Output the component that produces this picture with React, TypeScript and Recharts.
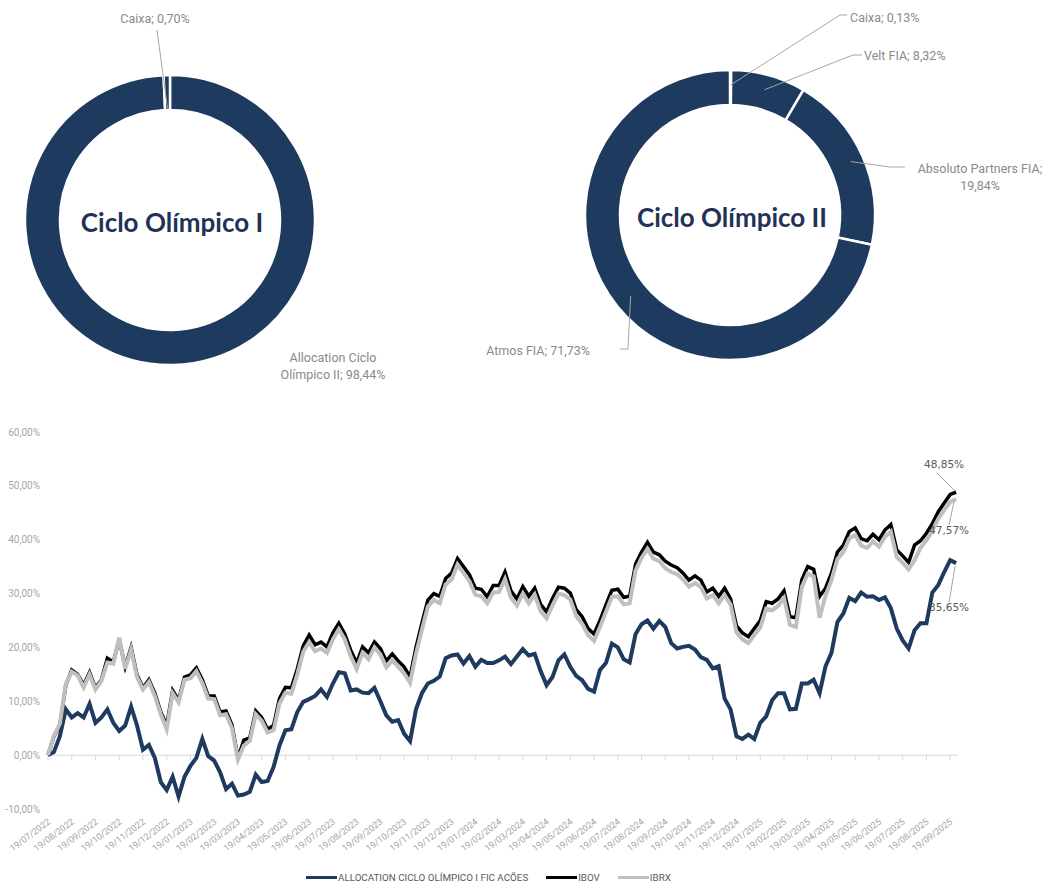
import React from "react";
import {
  PieChart,
  Pie,
  Cell,
  LineChart,
  Line,
  XAxis,
  YAxis,
  ReferenceLine,
  Legend,
} from "recharts";

// ---- data ----
const ciclo1Names = ["Allocation Ciclo Olímpico II", "Caixa"];
const ciclo1Values = [98.44, 0.7];

const ciclo2Names = ["Caixa", "Velt FIA", "Absoluto Partners FIA", "Atmos FIA"];
const ciclo2Values = [0.13, 8.32, 19.84, 71.73];

const monthLabels = [
  "19/07/2022", "19/08/2022", "19/09/2022", "19/10/2022", "19/11/2022", "19/12/2022",
  "19/01/2023", "19/02/2023", "19/03/2023", "19/04/2023", "19/05/2023", "19/06/2023",
  "19/07/2023", "19/08/2023", "19/09/2023", "19/10/2023", "19/11/2023", "19/12/2023",
  "19/01/2024", "19/02/2024", "19/03/2024", "19/04/2024", "19/05/2024", "19/06/2024",
  "19/07/2024", "19/08/2024", "19/09/2024", "19/10/2024", "19/11/2024", "19/12/2024",
  "19/01/2025", "19/02/2025", "19/03/2025", "19/04/2025", "19/05/2025", "19/06/2025",
  "19/07/2025", "19/08/2025", "19/09/2025",
];

// weekly-ish readings (4 per month, starting 19/07/2022), cumulative return in %
const allocation = [
  0, 0.6, 3.5, 8.5, 7, 7.8, 7, 9.5,
  6, 7, 8.5, 6, 4.5, 5.5, 9, 5.5,
  1, 1.9, -0.5, -5, -6.5, -4, -7.7, -4,
  -2, -0.5, 3, -0.2, -1, -3.2, -6.3, -5.3,
  -7.5, -7.3, -6.8, -3.6, -5, -4.8, -2.2, 1.8,
  4.6, 4.8, 8, 9.9, 10.4, 11, 12.2, 10.8,
  13.3, 15.4, 15.2, 12, 12.2, 11.6, 11.5, 12.5,
  10, 7.4, 6.2, 6.5, 4, 2.6, 8.5, 11.5,
  13.3, 13.8, 14.6, 18, 18.5, 18.7, 17, 18.4,
  16.4, 17.7, 17.1, 17.1, 17.6, 18.3, 16.9, 18.3,
  19.7, 18.5, 18.8, 15.6, 13, 14.5, 17.6, 18.7,
  16.4, 14.7, 13.9, 12.3, 11.8, 15.8, 17.1, 20.7,
  20, 17.8, 17.2, 22.5, 24.3, 25, 23.5, 24.9,
  23.8, 20.8, 19.8, 20.1, 20.3, 19.6, 18.2, 17.7,
  16.1, 16.5, 10.5, 8.5, 3.5, 3, 3.8, 3,
  6, 7.2, 10.2, 11.5, 11.5, 8.5, 8.6, 13.3,
  13.3, 14, 11.5, 16.5, 19, 24.7, 26.3, 29.2,
  28.6, 30.2, 29.4, 29.5, 28.8, 29.3, 27.3, 23.5,
  21.3, 19.8, 23.2, 24.5, 24.5, 30.2, 31.6, 34,
  36.2, 35.65,
];

const ibov = [
  0, 3.5, 5.5, 13, 15.8, 15, 13, 15.4,
  12.5, 14, 18, 17.3, 21.5, 16.4, 20, 14.9,
  12.5, 14, 11.5, 8, 5.5, 12, 10.2, 14.5,
  14.9, 16.2, 14, 11, 11, 8, 8.2, 5.6,
  -0.5, 2.8, 3.2, 8.2, 7, 4.8, 5.5, 10.5,
  12.6, 12.5, 16, 20.3, 22.3, 20.5, 21, 20.1,
  22.7, 24.5, 22.5, 19.5, 17.1, 20.1, 19, 21,
  19.8, 17.5, 18.8, 17.5, 16.4, 14.5, 20, 24.5,
  28.8, 30, 29.5, 32.8, 33.8, 36.5, 35, 33.5,
  31, 30.8, 29.4, 31.5, 31.5, 34, 30.5, 29,
  31.3, 29.5, 31, 28, 26.6, 29.1, 31.2, 31,
  30.1, 27, 25.7, 23.5, 22.5, 25, 27.9, 30.6,
  30.8, 29.3, 29.5, 35.5, 37.7, 39.5, 37.7, 37.2,
  36, 35.3, 34.8, 33.8, 32.5, 33.3, 32.5, 30.3,
  31, 29.5, 31, 29, 24, 22.7, 22, 23.5,
  25, 28.5, 28.2, 29, 30.5, 25.7, 25.5, 32.5,
  35, 34.5, 29.5, 31, 33.8, 37.7, 39, 41.5,
  42.2, 40.2, 39.8, 41, 40, 41.8, 42.8, 38.1,
  37, 35.8, 39, 39.8, 41.2, 43, 45.2, 46.8,
  48.4, 48.85,
];

const ibrx = [
  0, 3.6, 5.8, 13.2, 15.5, 14.8, 12.6, 15,
  12.2, 13.8, 17.2, 17, 21.8, 16, 19.6, 14.5,
  12.2, 13.6, 11, 7.6, 4.8, 11.5, 9.8, 14,
  14.3, 15.6, 13.4, 10.5, 10.4, 7.4, 7.6, 5,
  -0.8, 1.8, 2.6, 7.6, 6.4, 4.2, 4.6, 9.6,
  11.6, 11.4, 15, 19.2, 21, 19.3, 19.8, 19,
  21.5, 23.4, 21.5, 18.4, 16, 19, 17.8, 20,
  18.7, 16.3, 17.6, 16.4, 15.2, 13.4, 18.8, 23.3,
  27.6, 28.8, 28.2, 31.7, 32.6, 35.4, 33.8, 32.3,
  29.8, 29.5, 28.2, 30.2, 30.3, 32.7, 29.2, 27.8,
  30, 28.2, 29.8, 26.7, 25.4, 27.8, 30, 29.7,
  28.9, 25.8, 24.4, 22.3, 21.2, 23.8, 26.6, 29.4,
  29.5, 28, 28.2, 34.3, 36.6, 38.3, 36.5, 36,
  34.7, 34, 33.6, 32.6, 31.3, 32, 31.2, 29.1,
  29.7, 28.2, 29.7, 28, 22.8, 21.5, 20.8, 22.3,
  23.7, 27.2, 26.9, 27.7, 29.2, 24.2, 23.8, 31.2,
  33.7, 33.2, 25.5, 29.6, 32.5, 36.4, 37.7, 40.2,
  40.9, 38.9, 38.5, 39.7, 38.7, 40.5, 41.5, 36.8,
  35.7, 34.5, 36.2, 38.5, 39.9, 41.7, 43.9, 45.5,
  47, 47.57,
];

const yTicks = [-10, 0, 10, 20, 30, 40, 50, 60];

const seriesNames = ["ALLOCATION CICLO OLÍMPICO I FIC ACÕES", "IBOV", "IBRX"];

// ---- styles ----
const NAVY = "#1f3a5f";
const FONT = "Roboto, sans-serif";
const LABEL_GRAY = "#8a8a8a";
const AXIS_GRAY = "#a6a6a6";
const seriesColors = [NAVY, "#000000", "#bfbfbf"];
const noMargin = { top: 0, right: 0, bottom: 0, left: 0 };

const lineData = allocation.map((v, i) => ({
  m: i / 4,
  alloc: v,
  ibov: ibov[i],
  ibrx: ibrx[i],
}));
const last = lineData.length - 1;

const pct = (v: number) => v.toFixed(2).replace(".", ",") + "%";

// label layouts, relative to donut centre
type LabelSpec = {
  lines: string[];
  r?: number;
  path?: [number, number][];
  tx: number;
  ty: number;
  anchor: "start" | "middle" | "end";
};

const ciclo1Labels: LabelSpec[] = [
  { lines: ["Allocation Ciclo", "Olímpico II; 98,44%"], tx: 163, ty: 137, anchor: "middle" },
  { lines: ["Caixa; 0,70%"], r: 112, path: [[-13, -190]], tx: -15, ty: -202, anchor: "middle" },
];

const ciclo2Labels: LabelSpec[] = [
  { lines: ["Caixa; 0,13%"], r: 130, path: [[110, -200], [117, -200]], tx: 120, ty: -198, anchor: "start" },
  { lines: ["Velt FIA; 8,32%"], r: 130, path: [[123, -160], [132, -160]], tx: 134, ty: -160, anchor: "start" },
  { lines: ["Absoluto Partners FIA;", "19,84%"], r: 132, path: [[160, -48], [175, -48]], tx: 250, ty: -47, anchor: "middle" },
  { lines: ["Atmos FIA; 71,73%"], r: 128, path: [[-102, 134], [-110, 134]], tx: -140, ty: 135, anchor: "end" },
];

const makePieLabel = (specs: LabelSpec[], title: string) => (props: any) => {
  const { cx, cy, midAngle, index } = props;
  const s = specs[index];
  const rad = Math.PI / 180;
  let leader = null;
  if (s.r && s.path) {
    const sx = cx + s.r * Math.cos(-midAngle * rad);
    const sy = cy + s.r * Math.sin(-midAngle * rad);
    const pts = [[sx, sy], ...s.path.map(([px, py]) => [cx + px, cy + py])]
      .map((p) => p.join(","))
      .join(" ");
    leader = <polyline points={pts} fill="none" stroke="#a6a6a6" strokeWidth={1} />;
  }
  return (
    <g>
      {index === 0 ? (
        <text
          x={cx + 2}
          y={cy + 2}
          textAnchor="middle"
          dominantBaseline="central"
          fontFamily="Lato, sans-serif"
          fontWeight={700}
          fontSize={26}
          fill="#1f3356"
        >
          {title}
        </text>
      ) : null}
      {leader}
      {s.lines.map((t, k) => (
        <text
          key={k}
          x={cx + s.tx}
          y={cy + s.ty + k * 17}
          textAnchor={s.anchor}
          dominantBaseline="central"
          fontFamily={FONT}
          fontSize={12.5}
          fill={LABEL_GRAY}
        >
          {t}
        </text>
      ))}
    </g>
  );
};

const MonthTick = (props: any) => {
  const { x, y, payload } = props;
  const tx = x + 3;
  const ty = y + 14;
  return (
    <text
      x={tx}
      y={ty}
      transform={`rotate(-37 ${tx} ${ty})`}
      textAnchor="end"
      fontFamily={FONT}
      fontSize={9}
      fill={AXIS_GRAY}
    >
      {monthLabels[payload.value]}
    </text>
  );
};

const endTag = (dx: number, dy: number, lx: number, ly: number, ex: number, ey: number) => (props: any) => {
  const { x, y, index, value } = props;
  if (index !== last) return null;
  return (
    <g>
      <line x1={x + lx} y1={y + ly} x2={x + ex} y2={y + ey} stroke="#a6a6a6" strokeWidth={1} />
      <text
        x={x + dx}
        y={y + dy}
        textAnchor="middle"
        dominantBaseline="central"
        fontFamily="DejaVu Sans, sans-serif"
        fontSize={10.5}
        fill="#595959"
      >
        {pct(Number(value))}
      </text>
    </g>
  );
};

const LegendContent = () => (
  <div
    style={{
      display: "flex",
      alignItems: "center",
      height: 12,
      paddingLeft: 306,
      fontFamily: FONT,
      fontSize: 9.8,
      color: "#595959",
    }}
  >
    {seriesNames.map((n, i) => (
      <div key={n} style={{ display: "flex", alignItems: "center", marginRight: 18 }}>
        <div style={{ width: 31, height: 3, background: seriesColors[i], marginRight: 1 }} />
        <span>{n}</span>
      </div>
    ))}
  </div>
);

export default function App() {
  const pie1 = ciclo1Names.map((n, i) => ({ name: n, value: ciclo1Values[i] }));
  const pie2 = ciclo2Names.map((n, i) => ({ name: n, value: ciclo2Values[i] }));

  return (
    <div
      style={{
        position: "absolute",
        left: 0,
        top: 0,
        width: 1042,
        height: 883,
        overflow: "hidden",
        background: "#fff",
      }}
    >
      <div style={{ position: "absolute", left: 0, top: 0 }}>
        <PieChart width={420} height={400} margin={noMargin}>
          <Pie
            data={pie1}
            dataKey="value"
            cx={170}
            cy={220}
            innerRadius={110}
            outerRadius={145}
            startAngle={90}
            endAngle={-270}
            stroke="#ffffff"
            strokeWidth={2.5}
            labelLine={false}
            label={makePieLabel(ciclo1Labels, "Ciclo Olímpico I")}
            isAnimationActive={false}
          >
            {pie1.map((d) => (
              <Cell key={d.name} fill={NAVY} />
            ))}
          </Pie>
        </PieChart>
      </div>

      <div style={{ position: "absolute", left: 420, top: 0 }}>
        <PieChart width={622} height={400} margin={noMargin}>
          <Pie
            data={pie2}
            dataKey="value"
            cx={310}
            cy={215}
            innerRadius={110}
            outerRadius={145}
            startAngle={90}
            endAngle={-270}
            stroke="#ffffff"
            strokeWidth={2.5}
            labelLine={false}
            label={makePieLabel(ciclo2Labels, "Ciclo Olímpico II")}
            isAnimationActive={false}
          >
            {pie2.map((d) => (
              <Cell key={d.name} fill={NAVY} />
            ))}
          </Pie>
        </PieChart>
      </div>

      <div style={{ position: "absolute", left: 0, top: 400 }}>
        <LineChart
          width={1042}
          height={483}
          data={lineData}
          margin={{ top: 32, right: 84, left: 8, bottom: 0 }}
        >
          <XAxis
            dataKey="m"
            type="number"
            domain={[0, 38.33]}
            ticks={monthLabels.map((_, i) => i)}
            interval={0}
            tick={<MonthTick />}
            axisLine={false}
            tickLine={false}
            tickSize={0}
            tickMargin={0}
            height={62}
          />
          <YAxis
            type="number"
            domain={[-10, 60]}
            ticks={yTicks}
            tickFormatter={(v: number) => `${v},00%`}
            axisLine={false}
            tickLine={false}
            tickSize={0}
            tickMargin={8}
            width={40}
            tick={{ fontFamily: FONT, fontSize: 10, fill: AXIS_GRAY }}
          />
          <ReferenceLine y={0} stroke="#d9d9d9" strokeWidth={1} />
          {monthLabels.map((_, i) => (
            <ReferenceLine
              key={i}
              segment={[
                { x: i, y: 0 },
                { x: i, y: -0.9 },
              ]}
              stroke="#d9d9d9"
              strokeWidth={1}
            />
          ))}
          <Legend verticalAlign="bottom" height={12} wrapperStyle={{ left: 0, width: 1042 }} content={<LegendContent />} />
          <Line
            dataKey="alloc"
            name={seriesNames[0]}
            type="linear"
            stroke={seriesColors[0]}
            strokeWidth={4}
            dot={false}
            isAnimationActive={false}
            label={endTag(-7, 44, -7, 39, -1, 3)}
          />
          <Line
            dataKey="ibov"
            name={seriesNames[1]}
            type="linear"
            stroke={seriesColors[1]}
            strokeWidth={3.5}
            dot={false}
            isAnimationActive={false}
            label={endTag(-12, -28, -19, -19, -1, -1)}
          />
          <Line
            dataKey="ibrx"
            name={seriesNames[2]}
            type="linear"
            stroke={seriesColors[2]}
            strokeWidth={4}
            dot={false}
            isAnimationActive={false}
            label={endTag(-7, 31, -7, 26, -2, 2)}
          />
        </LineChart>
      </div>
    </div>
  );
}
